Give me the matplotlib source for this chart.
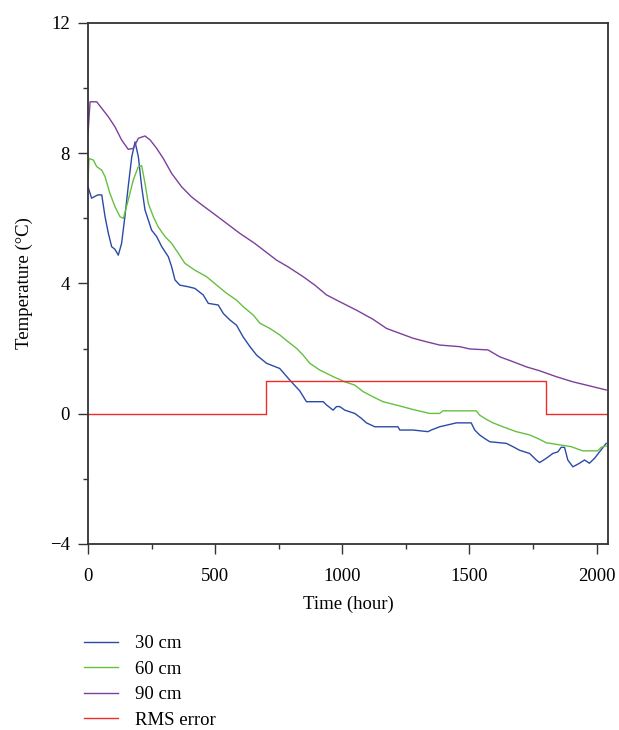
import numpy as np
import matplotlib
matplotlib.use('Agg')
import matplotlib.pyplot as plt
from matplotlib.ticker import MultipleLocator

plt.rcParams['font.family'] = ['Liberation Serif', 'DejaVu Serif']

# 30 cm
t30 = [0, 14, 38, 54, 67, 80, 93, 106, 119, 132, 145, 158, 172, 185, 198, 211, 224, 237,
       250, 270, 290, 316, 329, 342, 361, 394, 420, 453, 473, 512, 532, 558, 584, 610,
       637, 663, 702, 754, 794, 833, 859, 925, 938, 964, 977, 990, 1010, 1049, 1075,
       1095, 1128, 1219, 1226, 1278, 1337, 1350, 1383, 1449, 1507, 1521, 1540, 1560,
       1580, 1645, 1671, 1697, 1737, 1763, 1776, 1802, 1828, 1848, 1861, 1874, 1887,
       1907, 1933, 1953, 1972, 1992, 2012, 2038]
temp30 = [6.97, 6.62, 6.72, 6.72, 6.05, 5.54, 5.13, 5.05, 4.87, 5.23, 6.05, 6.97, 7.89,
          8.35, 7.89, 6.97, 6.26, 5.95, 5.64, 5.44, 5.13, 4.82, 4.51, 4.11, 3.95, 3.90,
          3.85, 3.65, 3.39, 3.34, 3.08, 2.88, 2.72, 2.36, 2.06, 1.80, 1.55, 1.39, 1.03,
          0.70, 0.37, 0.37, 0.27, 0.11, 0.22, 0.22, 0.11, 0.01, -0.14, -0.28, -0.40,
          -0.40, -0.50, -0.50, -0.55, -0.50, -0.40, -0.28, -0.28, -0.50, -0.65, -0.76,
          -0.86, -0.91, -1.01, -1.12, -1.22, -1.42, -1.50, -1.37, -1.22, -1.17, -1.03,
          -1.03, -1.42, -1.63, -1.52, -1.42, -1.52, -1.37, -1.17, -0.91]

# 60 cm
t60 = [0, 4, 21, 34, 54, 67, 86, 106, 126, 139, 158, 178, 198, 211, 224, 237, 257, 276,
       303, 329, 355, 381, 420, 466, 506, 545, 584, 610, 650, 676, 715, 754, 787, 820,
       846, 872, 912, 964, 1010, 1049, 1082, 1121, 1160, 1226, 1278, 1344, 1383, 1396,
       1527, 1540, 1566, 1593, 1632, 1684, 1737, 1769, 1802, 1900, 1946, 2005, 2018, 2038]
temp60 = [7.2, 7.84, 7.79, 7.59, 7.48, 7.28, 6.77, 6.36, 6.05, 6.00, 6.56, 7.18, 7.59,
          7.62, 7.08, 6.46, 6.05, 5.74, 5.44, 5.23, 4.93, 4.62, 4.41, 4.21, 3.95, 3.70,
          3.49, 3.29, 3.03, 2.78, 2.62, 2.42, 2.21, 2.01, 1.80, 1.55, 1.34, 1.14, 0.98,
          0.88, 0.68, 0.52, 0.37, 0.24, 0.13, 0.01, 0.01, 0.09, 0.09, -0.04, -0.17,
          -0.28, -0.40, -0.55, -0.65, -0.76, -0.89, -1.01, -1.14, -1.14, -1.03, -0.99]

# 90 cm
t90 = [0, 8, 34, 54, 80, 106, 132, 158, 178, 198, 224, 244, 270, 296, 329, 368, 407, 440,
       519, 597, 656, 741, 787, 846, 892, 938, 990, 1056, 1121, 1174, 1226, 1278, 1331,
       1383, 1462, 1501, 1573, 1619, 1671, 1724, 1776, 1841, 1907, 1960, 2012, 2038]
temp90 = [8.6, 9.58, 9.58, 9.38, 9.12, 8.81, 8.41, 8.12, 8.15, 8.46, 8.53, 8.41, 8.15,
          7.84, 7.38, 6.97, 6.66, 6.46, 6.00, 5.54, 5.23, 4.72, 4.51, 4.21, 3.95, 3.65,
          3.44, 3.18, 2.90, 2.62, 2.47, 2.32, 2.21, 2.11, 2.06, 1.99, 1.96, 1.75, 1.60,
          1.44, 1.32, 1.14, 0.98, 0.88, 0.78, 0.73]

# RMS error
t_rms = [0, 700, 1800, 2040]
rms = [0, 1, 0, 0]

fig = plt.figure(figsize=(6.19, 7.3), dpi=100)
ax = fig.add_axes([0.1422, 0.2548, 0.8400, 0.7137])

ax.plot(t30, temp30, color='#2b4aa6', lw=1.0, label='30 cm')
ax.plot(t60, temp60, color='#66c040', lw=1.0, label='60 cm')
ax.plot(t90, temp90, color='#7d3f9c', lw=1.0, label='90 cm')
ax.plot(t_rms, rms, color='#f02a2a', lw=1.0, drawstyle='steps-post', label='RMS error')

ax.set_xlim(0, 2045)
ax.set_ylim(-4, 12)
ax.xaxis.set_major_locator(MultipleLocator(500))
ax.xaxis.set_minor_locator(MultipleLocator(250))
ax.yaxis.set_major_locator(MultipleLocator(4))
ax.yaxis.set_minor_locator(MultipleLocator(2))
ax.tick_params(which='major', direction='out', length=7, width=1.0, color='#333333',
               labelsize=13.5, pad=6)
ax.tick_params(which='minor', direction='out', length=3.5, width=1.0, color='#333333')
ax.tick_params(axis='x', pad=10)
ax.tick_params(top=False, right=False, which='both')
for s in ax.spines.values():
    s.set_color('#333333')
    s.set_linewidth(1.3)

ax.set_xlabel('Time (hour)', fontsize=13.5, labelpad=8)
ax.set_ylabel('Temperature (°C)', fontsize=13.5, labelpad=12)

fig.legend(loc='upper left', bbox_to_anchor=(0.136, 0.130), frameon=False,
           fontsize=13.5, handlelength=1.8, handletextpad=0.9, labelspacing=0.45,
           borderaxespad=0, borderpad=0)

fig.savefig('out.png', dpi=100)
